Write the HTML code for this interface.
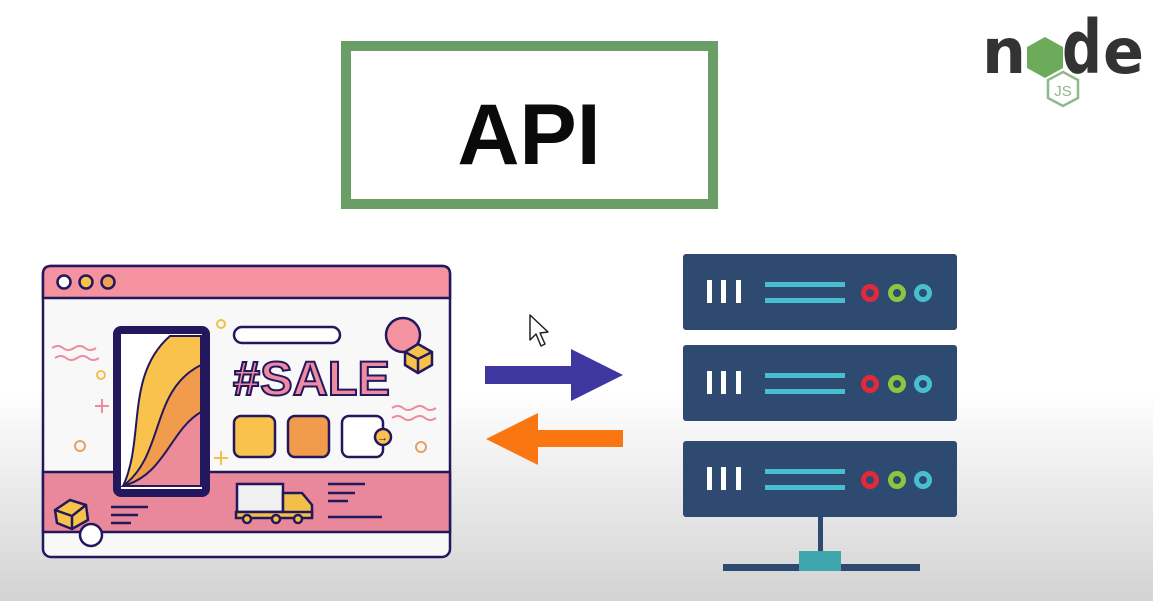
<!DOCTYPE html>
<html><head><meta charset="utf-8"><style>
html,body{margin:0;padding:0;width:1153px;height:601px;overflow:hidden;}
body{background:linear-gradient(to bottom,#ffffff 0px,#ffffff 390px,#d3d3d3 601px);}
</style></head><body>
<svg width="1153" height="601" viewBox="0 0 1153 601" xmlns="http://www.w3.org/2000/svg" style="position:absolute;left:0;top:0">
<!-- API box -->
<rect x="346" y="46" width="367" height="158" fill="#fff" stroke="#6a9e66" stroke-width="10"/>
<text x="529" y="164" text-anchor="middle" font-family="Liberation Sans, sans-serif" font-weight="bold" font-size="86" fill="#0a0a0a">API</text>

<!-- node logo -->
<g font-family="DejaVu Sans, sans-serif" font-weight="bold" fill="#333333">
<text x="982" y="73" font-size="62" textLength="44" lengthAdjust="spacingAndGlyphs">n</text>
<text x="1062" y="73" font-size="74" textLength="40" lengthAdjust="spacingAndGlyphs">d</text>
<text x="1103" y="73" font-size="62" textLength="41" lengthAdjust="spacingAndGlyphs">e</text>
</g>
<path d="M1027 47 L1045 37 L1063 47 L1063 68 L1045 78 L1027 68Z" fill="#6bab59"/>
<path d="M1048 80 L1063 72 L1078 80 L1078 98 L1063 106 L1048 98Z" fill="none" stroke="#8fb98a" stroke-width="2.5"/>
<text x="1063" y="96" text-anchor="middle" font-family="Liberation Sans, sans-serif" font-size="15" fill="#8fb98a">JS</text>

<!-- arrows -->
<polygon points="485,366 571,366 571,349 623,375 571,401 571,384 485,384" fill="#3f37a0"/>
<polygon points="486,439 538,413 538,430 623,430 623,447 538,447 538,465" fill="#f97610"/>
<!-- cursor -->
<path d="M530 315 L530 340 L536 334 L541 346 L545 344 L540 333 L548 332Z" fill="#fff" stroke="#222" stroke-width="1.5" stroke-linejoin="round"/>

<!-- servers -->
<g id="srv">
<rect x="683" y="254" width="274" height="76" rx="3" fill="#2f4a70"/>
<rect x="707" y="280" width="5" height="23" fill="#fff"/><rect x="721" y="280" width="5" height="23" fill="#fff"/><rect x="736" y="280" width="5" height="23" fill="#fff"/>
<rect x="765" y="282" width="80" height="5" fill="#47bfcf"/><rect x="765" y="298" width="80" height="5" fill="#47bfcf"/>
<circle cx="870" cy="293" r="6.5" fill="none" stroke="#e02a3c" stroke-width="5"/>
<circle cx="897" cy="293" r="6.5" fill="none" stroke="#8cc63f" stroke-width="5"/>
<circle cx="923" cy="293" r="6.5" fill="none" stroke="#47bfcf" stroke-width="5"/>
</g>
<use href="#srv" y="91"/>
<use href="#srv" y="187"/>
<rect x="818" y="517" width="5" height="36" fill="#2f4a70"/>
<rect x="723" y="564" width="197" height="7" fill="#2f4a70"/>
<rect x="799" y="551" width="42" height="20" fill="#3fa6ae"/>

<!-- browser -->
<g stroke="#23175e" stroke-width="2.5">
<rect x="43" y="266" width="407" height="291" rx="8" fill="#f8f8f8"/>
<path d="M43 298 L43 274 Q43 266 51 266 L442 266 Q450 266 450 274 L450 298Z" fill="#f4929f"/>
<rect x="43" y="472" width="407" height="60" fill="#e8889a"/>
<circle cx="64" cy="282" r="6.5" fill="#fff"/>
<circle cx="86" cy="282" r="6.5" fill="#f7c24a"/>
<circle cx="108" cy="282" r="6.5" fill="#f0a050"/>
</g>
<!-- phone -->
<rect x="117" y="330" width="89" height="163" rx="4" fill="#fff" stroke="#23175e" stroke-width="8"/>
<g stroke="#23175e" stroke-width="2">
<path d="M123 486 C145 440 125 375 170 336 L201 336 L201 486Z" fill="#f8c24c"/>
<path d="M123 486 C165 455 150 390 201 365 L201 486Z" fill="#f19c4c"/>
<path d="M123 486 C165 475 170 430 201 412 L201 486Z" fill="#ec8c9a"/>
</g>
<!-- decorations -->
<g fill="none" stroke-width="2">
<circle cx="221" cy="324" r="4" stroke="#f2c048"/>
<circle cx="101" cy="375" r="4" stroke="#f2c048"/>
<circle cx="80" cy="446" r="5" stroke="#eaa060"/>
<circle cx="421" cy="447" r="5" stroke="#eaa060"/>
<path d="M95 406 h14 M102 399 v14" stroke="#f08aa0"/>
<path d="M214 458 h14 M221 451 v14" stroke="#f2c048"/>
<path d="M52 348 q6 -4 11 0 t11 0 t11 0 t11 0 M55 358 q6 -4 11 0 t11 0 t11 0 t11 0" stroke="#f08aa0"/>
<path d="M392 408 q6 -4 11 0 t11 0 t11 0 t11 0 M392 418 q6 -4 11 0 t11 0 t11 0 t11 0" stroke="#f08aa0"/>
</g>
<g stroke="#23175e" stroke-width="2.5">
<rect x="234" y="327" width="106" height="16" rx="8" fill="#fff"/>
<circle cx="403" cy="335" r="17" fill="#f4929f"/>
<path d="M405 352 L418 344 L432 352 L432 365 L418 373 L405 365Z" fill="#f7c24a"/>
<path d="M405 352 L418 359 L432 352 M418 359 L418 373" fill="none"/>
<rect x="234" y="416" width="41" height="41" rx="7" fill="#f8c24c"/>
<rect x="288" y="416" width="41" height="41" rx="7" fill="#f19c4c"/>
<rect x="342" y="416" width="41" height="41" rx="7" fill="#fff"/>
<circle cx="383" cy="437" r="8" fill="#f8c24c"/>
<circle cx="91" cy="535" r="11" fill="#fff"/>
<path d="M55 510 L70 500 L86 505 L88 520 L72 529 L57 523Z" fill="#f7c24a"/>
<path d="M55 510 L72 516 L86 505 M72 516 L72 529" fill="none"/>
<rect x="237" y="484" width="46" height="28" fill="#f0f0f0"/>
<path d="M283 493 L302 493 L312 505 L312 516 L283 516Z" fill="#f2c048"/>
<rect x="236" y="512" width="76" height="6" fill="#f2c048"/>
<circle cx="247" cy="519" r="4" fill="#f2c048"/><circle cx="276" cy="519" r="4" fill="#f2c048"/><circle cx="298" cy="519" r="4" fill="#f2c048"/>
<path d="M328 484 h37 M328 493 h27 M328 501 h20 M328 517 h54 M111 507 h37 M111 515 h27 M111 523 h20" fill="none"/>
</g>
<text x="233" y="395" font-family="Liberation Sans, sans-serif" font-weight="bold" font-size="48" fill="#f08aa0" stroke="#23175e" stroke-width="2" textLength="157" lengthAdjust="spacingAndGlyphs">#SALE</text>
<text x="377" y="441" font-family="Liberation Sans, sans-serif" font-weight="bold" font-size="11" fill="#23175e">→</text>
</svg>
</body></html>
